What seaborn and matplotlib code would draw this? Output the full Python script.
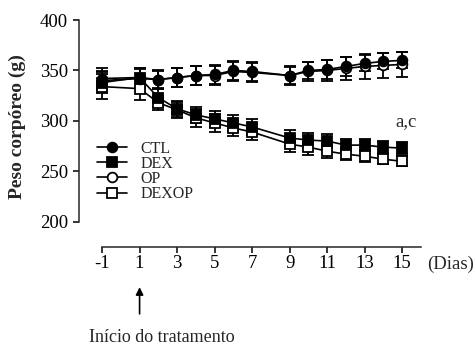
import matplotlib.pyplot as plt
import seaborn as sns
import pandas as pd

# Body weight (g) by day, mean +/- SEM
days = [-1, 1, 2, 3, 4, 5, 6, 7, 9, 10, 11, 12, 13, 14, 15]
ctl = [342, 343, 341, 343, 345, 346, 350, 349, 345, 350, 351, 354, 357, 359, 360]
op = [340, 342, 341, 343, 345, 345, 349, 348, 345, 349, 350, 352, 354, 355, 356]
dex = [338, 343, 323, 312, 306, 302, 298, 294, 283, 281, 280, 276, 276, 274, 273]
dexop = [334, 332, 318, 311, 303, 298, 293, 289, 277, 274, 270, 267, 265, 262, 260]

ctl_sem = [10, 9, 8, 9, 9, 9, 9, 9, 8, 8, 9, 9, 8, 8, 8]
op_sem = [9, 9, 9, 9, 9, 9, 9, 9, 9, 9, 10, 11, 12, 12, 12]
dex_sem = [10, 9, 9, 8, 8, 8, 8, 8, 8, 7, 7, 6, 6, 6, 6]
dexop_sem = [12, 11, 7, 8, 9, 9, 8, 8, 8, 8, 7, 6, 6, 5, 5]

groups = ["CTL", "DEX", "OP", "DEXOP"]
x_ticks = [-1, 1, 3, 5, 7, 9, 11, 13, 15]
y_ticks = [200, 250, 300, 350, 400]

rows = []
for g, vals, sems in [("CTL", ctl, ctl_sem), ("DEX", dex, dex_sem),
                      ("OP", op, op_sem), ("DEXOP", dexop, dexop_sem)]:
    for d, v, s in zip(days, vals, sems):
        rows.append({"group": g, "day": d, "peso": v, "sem": s})
df = pd.DataFrame(rows)

marker_of = {"CTL": "o", "DEX": "s", "OP": "o", "DEXOP": "s"}
face_of = {"CTL": "black", "DEX": "black", "OP": "white", "DEXOP": "white"}

sns.set_style("ticks")
plt.rcParams["font.family"] = ["Liberation Serif", "DejaVu Serif"]

fig = plt.figure(figsize=(4.77, 3.45), dpi=100)
ax = fig.add_axes([0.1656, 0.284, 0.717, 0.658])

# open symbols first so the filled ones sit on top
for g in ["DEXOP", "OP", "DEX", "CTL"]:
    d = df[df["group"] == g]
    ax.errorbar(d["day"], d["peso"], yerr=d["sem"], fmt="none", ecolor="black",
                elinewidth=1.3, capsize=4.5, capthick=1.3, zorder=2)
    sns.lineplot(data=d, x="day", y="peso", color="black", marker=marker_of[g],
                 markersize=7, markerfacecolor=face_of[g], markeredgecolor="black",
                 markeredgewidth=1.3, linewidth=1.2, label=g, ax=ax, zorder=3)

handles, labels = ax.get_legend_handles_labels()
order = [labels.index(g) for g in groups]
ax.legend([handles[i] for i in order], groups, frameon=False, fontsize=11.5,
          loc="upper left", bbox_to_anchor=(97 / 477, 1 - 141 / 345),
          bbox_transform=fig.transFigure, borderpad=0, borderaxespad=0,
          handlelength=1.9, handletextpad=0.8, labelspacing=-0.06)

ax.set_xlim(-2.23, 16)
ax.set_ylim(175, 400)
ax.spines["top"].set_visible(False)
ax.spines["right"].set_visible(False)
ax.spines["left"].set_bounds(200, 400)
ax.spines["bottom"].set_bounds(-1, 16)
for s in ["left", "bottom"]:
    ax.spines[s].set_linewidth(1.1)

ax.set_xticks(x_ticks)
ax.set_xticklabels([str(t) for t in x_ticks])
ax.set_yticks(y_ticks)
ax.tick_params(axis="both", labelsize=13.5, length=4, width=1.1, colors="black")
ax.tick_params(axis="y", pad=4)
ax.tick_params(axis="x", pad=2)

ax.set_xlabel("")
ax.set_ylabel("Peso corpóreo (g)", fontsize=14, fontweight="bold")
ax.yaxis.set_label_coords(-0.155, 0.53)

ax.text(15.2, 299, "a,c", ha="center", va="center", fontsize=13.5)
fig.text(427 / 477, 1 - 264 / 345, "(Dias)", ha="left", va="center", fontsize=13.5)

ax.annotate("", xy=(1, 138), xytext=(1, 106), xycoords="data",
            annotation_clip=False,
            arrowprops=dict(arrowstyle="-|>", color="black", lw=1.2, mutation_scale=11))
fig.text(162 / 477, 1 - 337 / 345, "Início do tratamento", ha="center", va="center",
         fontsize=13)

fig.savefig("out.png", dpi=100)
